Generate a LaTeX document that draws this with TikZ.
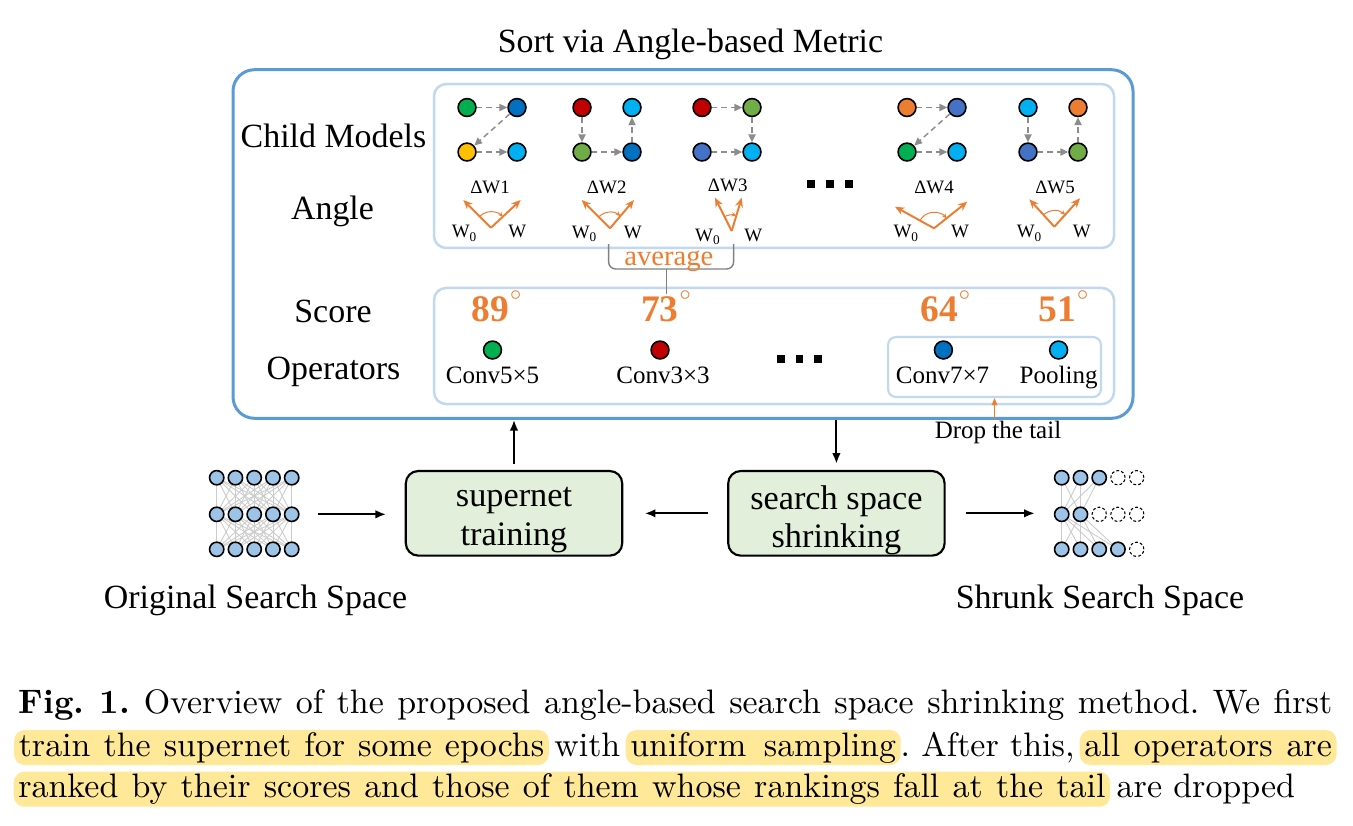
\documentclass[tikz,border=0pt]{standalone}
\usepackage{fontspec}
\newfontfamily\diagfont{Liberation Serif}
\usetikzlibrary{arrows.meta, positioning, angles, calc}
\pgfdeclarelayer{background}
\pgfsetlayers{background,main}
\definecolor{frameblue}{HTML}{5B9BD5}
\definecolor{panelblue}{HTML}{C2D8EE}
\definecolor{wedgeorange}{HTML}{ED7D31}
\definecolor{opgreen}{HTML}{00B050}
\definecolor{opblue}{HTML}{0070C0}
\definecolor{opyellow}{HTML}{FFC000}
\definecolor{opcyan}{HTML}{00B0F0}
\definecolor{opred}{HTML}{C00000}
\definecolor{oplime}{HTML}{70AD47}
\definecolor{opindigo}{HTML}{4472C4}
\definecolor{oporange}{HTML}{ED7D31}
\definecolor{stagegreen}{HTML}{E2EFDA}
\definecolor{neuronblue}{HTML}{9DC3E6}
\definecolor{linkgray}{HTML}{8C8C8C}
\definecolor{hlyellow}{HTML}{FFE999}
\newcommand{\Deg}[1]{#1\raisebox{6.2pt}{$\scriptscriptstyle\circ$}}
\tikzset{
    sortframe/.style={draw=frameblue, line width=0.84pt, rounded corners=6pt},
    panel/.style={draw=panelblue, line width=0.7pt, rounded corners=3.4pt},
    tailframe/.style={draw=panelblue, line width=0.6pt, rounded corners=2.2pt},
    title/.style={font=\diagfont\fontsize{9.5}{11}\selectfont, inner sep=0pt},
    small/.style={font=\diagfont\fontsize{5.3}{6}\selectfont, inner sep=0pt},
    oplabel/.style={font=\diagfont\fontsize{7}{8}\selectfont, inner sep=0pt},
    avg/.style={font=\diagfont\fontsize{8}{9}\selectfont, inner sep=0pt, text=wedgeorange},
    score/.style={font=\diagfont\bfseries\fontsize{10.5}{12}\selectfont, inner sep=0pt, text=wedgeorange},
    op/.style={circle, draw, line width=0.45pt, inner sep=0pt, minimum size=5pt, fill=#1},
    link/.style={draw=linkgray, line width=0.4pt, dash pattern=on 1.6pt off 1.1pt,
        -{Triangle[length=2.2pt, width=2pt]}},
    wedge/.style={draw=wedgeorange, line width=0.55pt, -{Stealth[length=2.6pt, width=2.2pt]}},
    dotsq/.style={rectangle, fill=black, inner sep=0pt, minimum size=2.1pt},
    bracket/.style={draw=gray, line width=0.4pt, rounded corners=2pt},
    neuron/.style={circle, draw, line width=0.45pt, fill=neuronblue, inner sep=0pt, minimum size=4pt},
    ghost/.style={circle, draw, line width=0.3pt, dash pattern=on 0.8pt off 0.6pt, inner sep=0pt, minimum size=4pt},
    wire/.style={draw=black!20, line width=0.25pt},
    stage/.style={draw, line width=0.6pt, rounded corners=3.5pt, fill=stagegreen,
        minimum width=60.6pt, minimum height=23.7pt, inner sep=0pt},
    stagetext/.style={align=center, inner sep=0pt, font=\diagfont\fontsize{9.6}{10.7}\selectfont},
    flow/.style={line width=0.6pt, -{Latex[length=3pt, width=2.4pt]}},
    drop/.style={draw=wedgeorange, line width=0.3pt, -{Triangle[length=2pt, width=1.6pt]}},
    capt/.style={inner sep=0pt, anchor=west, text height=6.7pt, text depth=1.9pt,
        font=\fontsize{9.5}{12}\selectfont\frenchspacing},
    hl/.style={capt, fill=hlyellow, rounded corners=3pt, inner xsep=1.3pt, inner ysep=0.6pt},
}
\begin{document}
\begin{tikzpicture}[x=0.28pt, y=-0.28pt]
    \useasboundingbox (0,0) rectangle (1353,825);
    \begin{pgfonlayer}{background}
        \fill[white] (0,0) rectangle (1353,825);
    \end{pgfonlayer}

    \node[title, anchor=base] (ttl) at (690.5,52.3) {Sort via Angle-based Metric};
    \node[sortframe, minimum width=252pt, minimum height=97.6pt] (sortbox) at (683,244) {};
    \node[panel, minimum width=190.4pt, minimum height=45.9pt] (childpanel) at (774,166) {};
    \node[panel, minimum width=190.4pt, minimum height=32.5pt] (scorepanel) at (774,346) {};
    \node[tailframe, minimum width=59.6pt, minimum height=16.8pt] (tail) at (994.5,367) {};

    \node[title, anchor=base] (childlbl) at (333.5,147) {Child Models};
    \node[title, anchor=base] (anglelbl) at (332.5,219) {Angle};
    \node[title, anchor=base] (scorelbl) at (333,322) {Score};
    \node[title, anchor=base] (oplbl) at (333.5,379) {Operators};

    \foreach \g/\x/\ca/\cb/\cc/\cd in {1/467/opgreen/opblue/opyellow/opcyan,
        2/582/opred/opcyan/oplime/opblue, 3/702/opred/oplime/opindigo/opcyan,
        4/907/oporange/opindigo/opgreen/opcyan, 5/1028/opcyan/oporange/opindigo/oplime}{
        \node[op=\ca] (m\g-a) at (\x,107.5) {};
        \node[op=\cb] (m\g-b) at (\x+50,107.5) {};
        \node[op=\cc] (m\g-c) at (\x,152) {};
        \node[op=\cd] (m\g-d) at (\x+50,152) {};
    }
    \foreach \g in {1,4}{
        \draw[link] (m\g-a) -- (m\g-b);
        \draw[link] (m\g-b) -- (m\g-c);
        \draw[link] (m\g-c) -- (m\g-d);
    }
    \foreach \g in {2,5}{
        \draw[link] (m\g-a) -- (m\g-c);
        \draw[link] (m\g-c) -- (m\g-d);
        \draw[link] (m\g-d) -- (m\g-b);
    }
    \draw[link] (m3-a) -- (m3-b);
    \draw[link] (m3-b) -- (m3-d);
    \draw[link] (m3-c) -- (m3-d);

    \foreach \g/\x/\y in {1/490/193.3, 2/606.7/193.3, 3/727.7/191, 4/934/193.3, 5/1055/193.3}
        \node[small, anchor=base] (dw\g) at (\x,\y) {ΔW\g};

    \foreach \g/\vx/\vy/\lx/\ly/\rx/\ry in {1/491/227.7/463.3/200/520.7/200,
        2/610/228.3/581.7/200/634/200, 3/731.7/231/715/197.7/741.7/197.7,
        4/934/228.3/895/206.7/967.3/201.7, 5/1054.3/226.7/1029.3/199.3/1080/198.3}{
        \coordinate (v\g) at (\vx,\vy);
        \coordinate (l\g) at (\lx,\ly);
        \coordinate (r\g) at (\rx,\ry);
        \draw[wedge] (v\g) -- (l\g);
        \draw[wedge] (v\g) -- (r\g);
        \pic[draw=wedgeorange, line width=0.28pt, angle radius=4.5pt,
            {Stealth[length=1.3pt, width=1.2pt]}-] {angle=r\g--v\g--l\g};
    }
    \foreach \g/\ax/\bx/\y in {1/465/517.3/237.7, 2/585/632.7/238, 3/708.3/753.3/241,
        4/906.7/960/237.7, 5/1030/1081.7/237.7}{
        \node[small, anchor=base] (wz\g) at (\ax,\y) {W\textsubscript{0}};
        \node[small, anchor=base] (wt\g) at (\bx,\y) {W};
    }

    \foreach \i/\x in {1/811, 2/830, 3/849}
        \node[dotsq] (cd\i) at (\x,184) {};
    \foreach \i/\x in {1/781, 2/799.5, 3/818}
        \node[dotsq] (od\i) at (\x,359) {};

    \draw[bracket] (608.6,244) -- (608.6,269) -- (733.6,269) -- (733.6,244);
    \draw[bracket] (666.6,269) -- (666.6,294);
    \node[avg, anchor=base] (avglbl) at (668.8,265) {average};

    \foreach \i/\x/\s in {1/497/89, 2/666.5/73, 3/945.7/64, 4/1064/51}
        \node[score, anchor=base] (sc\i) at (\x,321.7) {\Deg{\s}};

    \node[op=opgreen] (op1) at (492.5,350) {};
    \node[op=opred] (op2) at (660,350) {};
    \node[op=opblue] (op3) at (943.4,350) {};
    \node[op=opcyan] (op4) at (1058.6,350) {};
    \node[oplabel, anchor=base] (opt1) at (492.5,383.3) {Conv5×5};
    \node[oplabel, anchor=base] (opt2) at (663,383.3) {Conv3×3};
    \node[oplabel, anchor=base] (opt3) at (942.5,383.3) {Conv7×7};
    \node[oplabel, anchor=base] (opt4) at (1058.6,383.3) {Pooling};

    \draw[drop] (tail.south |- sortbox.south) -- (tail.south);
    \node[oplabel, anchor=base] (droplbl) at (998,438.3) {Drop the tail};

    \node[stage] (train) at (514,513.3) {};
    \node[stagetext] (traintxt) at ([yshift=-1.9pt]train.center) {supernet\\training};
    \node[stage] (shrink) at (836.4,513.3) {};
    \node[stagetext] (shrinktxt) at ([yshift=-1.9pt]shrink.center) {search space\\shrinking};

    \foreach \r/\y in {1/477.7, 2/514.3, 3/549.3}
        \foreach \c in {1,...,5}
            \node[neuron] (o-\r-\c) at ({216.7+18.75*(\c-1)},\y) {};
    \foreach \r/\y/\kept/\gone in {1/477.7/{1,2,3}/{4,5}, 2/514.3/{1,2}/{3,4,5}, 3/549.3/{1,2,3,4}/{5}}{
        \foreach \c in \kept
            \node[neuron] (s-\r-\c) at ({1061.7+18.75*(\c-1)},\y) {};
        \foreach \c in \gone
            \node[ghost] (s-\r-\c) at ({1061.7+18.75*(\c-1)},\y) {};
    }
    \begin{pgfonlayer}{background}
        \foreach \a in {1,...,5}
            \foreach \b in {1,...,5}{
                \draw[wire] (o-1-\a) -- (o-2-\b);
                \draw[wire] (o-2-\a) -- (o-3-\b);
            }
        \foreach \a in {1,2,3}
            \foreach \b in {1,2}
                \draw[wire] (s-1-\a) -- (s-2-\b);
        \foreach \a in {1,2}
            \foreach \b in {1,...,4}
                \draw[wire] (s-2-\a) -- (s-3-\b);
    \end{pgfonlayer}
    \node[title, anchor=base] (origlbl) at (255.5,608) {Original Search Space};
    \node[title, anchor=base] (shrunklbl) at (1100,608) {Shrunk Search Space};

    \draw[flow, shorten <=1.7pt] (train.north) -- (train.north |- sortbox.south);
    \draw[flow, shorten >=1.7pt] (shrink.north |- sortbox.south) -- (shrink.north);
    \draw[flow, shorten <=5.2pt, shorten >=5.2pt] (o-2-5.east) -- (o-2-5.east -| train.west);
    \draw[flow, shorten <=5.3pt, shorten >=6pt] (shrink.west) -- (train.east);
    \draw[flow, shorten <=5.6pt, shorten >=5.3pt] (shrink.east) -- (shrink.east -| s-2-1.west);

    \node[capt] (c1) at (18,704.5) {\hbox to 367.8pt{\textbf{Fig. 1.} Overview of the proposed angle-based search space shrinking method. We first}};
    \node[hl] (c2a) at (13.4,747.5) {\hbox to 147.1pt{train the supernet for some epochs}};
    \node[capt] (c2b) at (553.6,747.5) {with};
    \node[hl] (c2c) at (625,747.5) {\hbox to 74.4pt{uniform sampling}};
    \node[capt] (c2d) at (900,747.5) {. After this,};
    \node[hl] (c2e) at (1079,747.5) {\hbox to 69.3pt{all operators are}};
    \node[hl] (c3a) at (13,789.2) {\hbox to 304.4pt{ranked by their scores and those of them whose rankings fall at the tail}};
    \node[capt] (c3b) at (1116,789.2) {are dropped};
\end{tikzpicture}
\end{document}
